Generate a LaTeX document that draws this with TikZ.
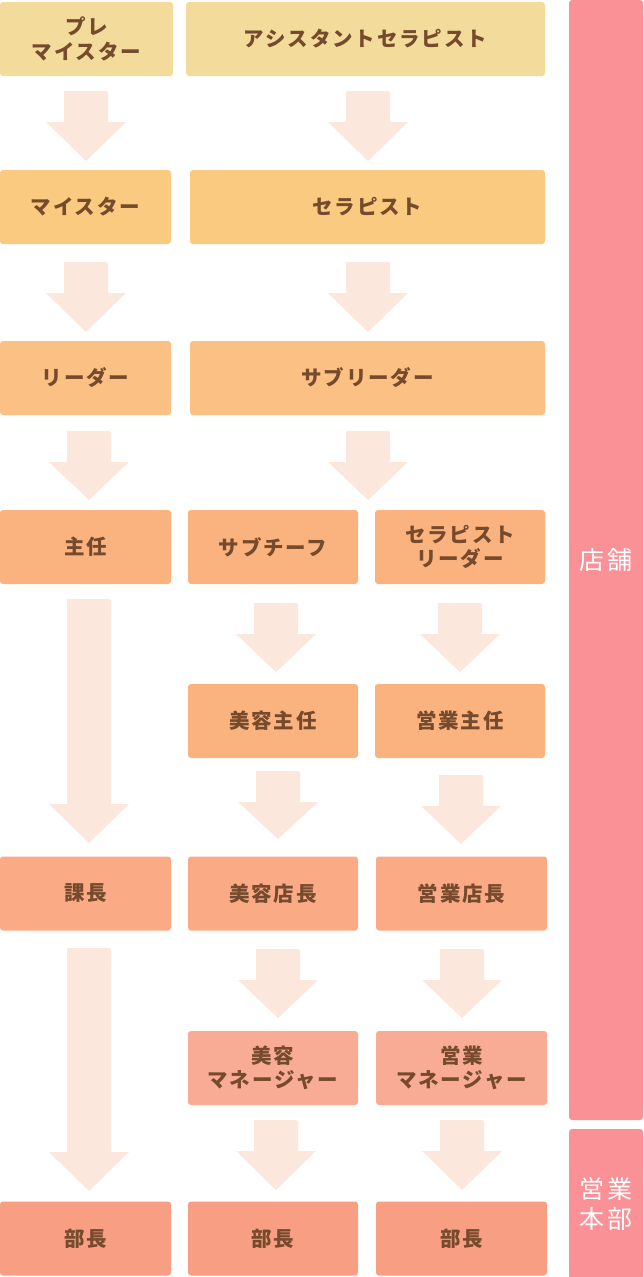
\documentclass[tikz,border=0pt]{standalone}
\usepackage{fontspec}
\newfontfamily\jpb{Noto Sans CJK JP}[LetterSpace=9]
\newfontfamily\jps{Noto Sans CJK JP}[LetterSpace=12]
\definecolor{cA}{HTML}{F3DC9B}
\definecolor{cB}{HTML}{FACA80}
\definecolor{cC}{HTML}{FBC083}
\definecolor{cD}{HTML}{FAB37F}
\definecolor{cE}{HTML}{FBAA86}
\definecolor{cF}{HTML}{F9AC95}
\definecolor{cG}{HTML}{F89E83}
\definecolor{side}{HTML}{FA9196}
\definecolor{arr}{HTML}{FBE7DB}
\definecolor{txt}{HTML}{764A2C}
\newcommand{\blockarr}[5]{% name, cx, top, base, tip
  \fill[arr, rounded corners=1.5pt] (#2-22,#3) -- (#2+22,#3) [sharp corners] -- (#2+22,#4) -- (#2+40,#4) -- (#2,#5) -- (#2-40,#4) -- (#2-22,#4) -- cycle;
  \coordinate (#1) at (#2,#5);}
\begin{document}
\begin{tikzpicture}[x=1pt,y=-1pt,
  box/.style={rounded corners=3pt, text=txt, align=center, inner sep=0pt,
    minimum height=74pt, font=\jpb\bfseries\fontsize{20.5}{24.5}\selectfont},
  sidebox/.style={fill=side, rounded corners=3pt, text=white, align=center, inner sep=0pt,
    minimum width=74pt, font=\jps\fontsize{25}{30}\selectfont}]
\useasboundingbox (0,0) rectangle (643,1277);
% row 1
\node[box, fill=cA, minimum width=173pt] (pre) at (86.5,39) {プレ\\マイスター};
\node[box, fill=cA, minimum width=359pt] (asst) at (365.5,39) {アシスタントセラピスト};
% row 2
\node[box, fill=cB, minimum width=171pt] (meister) at (85.5,207) {マイスター};
\node[box, fill=cB, minimum width=355pt] (ther) at (367.5,207) {セラピスト};
% row 3
\node[box, fill=cC, minimum width=171pt] (leader) at (85.5,378) {リーダー};
\node[box, fill=cC, minimum width=355pt] (subl) at (367.5,378) {サブリーダー};
% row 4
\node[box, fill=cD, minimum width=171pt] (shunin) at (85.5,547) {主任};
\node[box, fill=cD, minimum width=170pt] (subchief) at (273,547) {サブチーフ};
\node[box, fill=cD, minimum width=170pt] (therl) at (460,547) {セラピスト\\リーダー};
% row 5
\node[box, fill=cD, minimum width=170pt] (bshunin) at (273,721) {美容主任};
\node[box, fill=cD, minimum width=170pt] (eshunin) at (460,721) {営業主任};
% row 6
\node[box, fill=cE, minimum width=171pt] (kacho) at (85.5,893.5) {課長};
\node[box, fill=cE, minimum width=170pt] (btencho) at (273,893.5) {美容店長};
\node[box, fill=cE, minimum width=171pt] (etencho) at (461.5,893.5) {営業店長};
% row 7
\node[box, fill=cF, minimum width=170pt] (bmgr) at (273,1068) {美容\\マネージャー};
\node[box, fill=cF, minimum width=171pt] (emgr) at (461.5,1068) {営業\\マネージャー};
% row 8
\node[box, fill=cG, minimum width=171pt] (bucho1) at (85.5,1238.5) {部長};
\node[box, fill=cG, minimum width=170pt] (bucho2) at (273,1238.5) {部長};
\node[box, fill=cG, minimum width=171pt] (bucho3) at (461.5,1238.5) {部長};
% side bars
\node[sidebox, minimum height=1120pt] (tenpo) at (606,560) {店舗};
\node[sidebox, minimum height=150pt] (honbu) at (606,1204) {営業\\本部};
% arrows
\blockarr{a1}{86}{91}{122}{161}
\blockarr{a2}{368}{91}{122}{161}
\blockarr{a3}{86}{262}{293}{332}
\blockarr{a4}{368}{262}{293}{332}
\blockarr{a5}{89}{431}{462}{500}
\blockarr{a6}{368}{431}{462}{500}
\blockarr{a7}{89}{599}{804}{843}
\blockarr{a8}{276}{603}{634}{672}
\blockarr{a9}{460}{603}{634}{672}
\blockarr{a10}{278}{771}{802}{839}
\blockarr{a11}{461}{775}{806}{844}
\blockarr{a12}{278}{949}{980}{1018}
\blockarr{a13}{462}{949}{980}{1018}
\blockarr{a14}{89}{948}{1152}{1191}
\blockarr{a15}{276}{1120}{1151}{1190}
\blockarr{a16}{462}{1120}{1151}{1190}
\end{tikzpicture}
\end{document}
